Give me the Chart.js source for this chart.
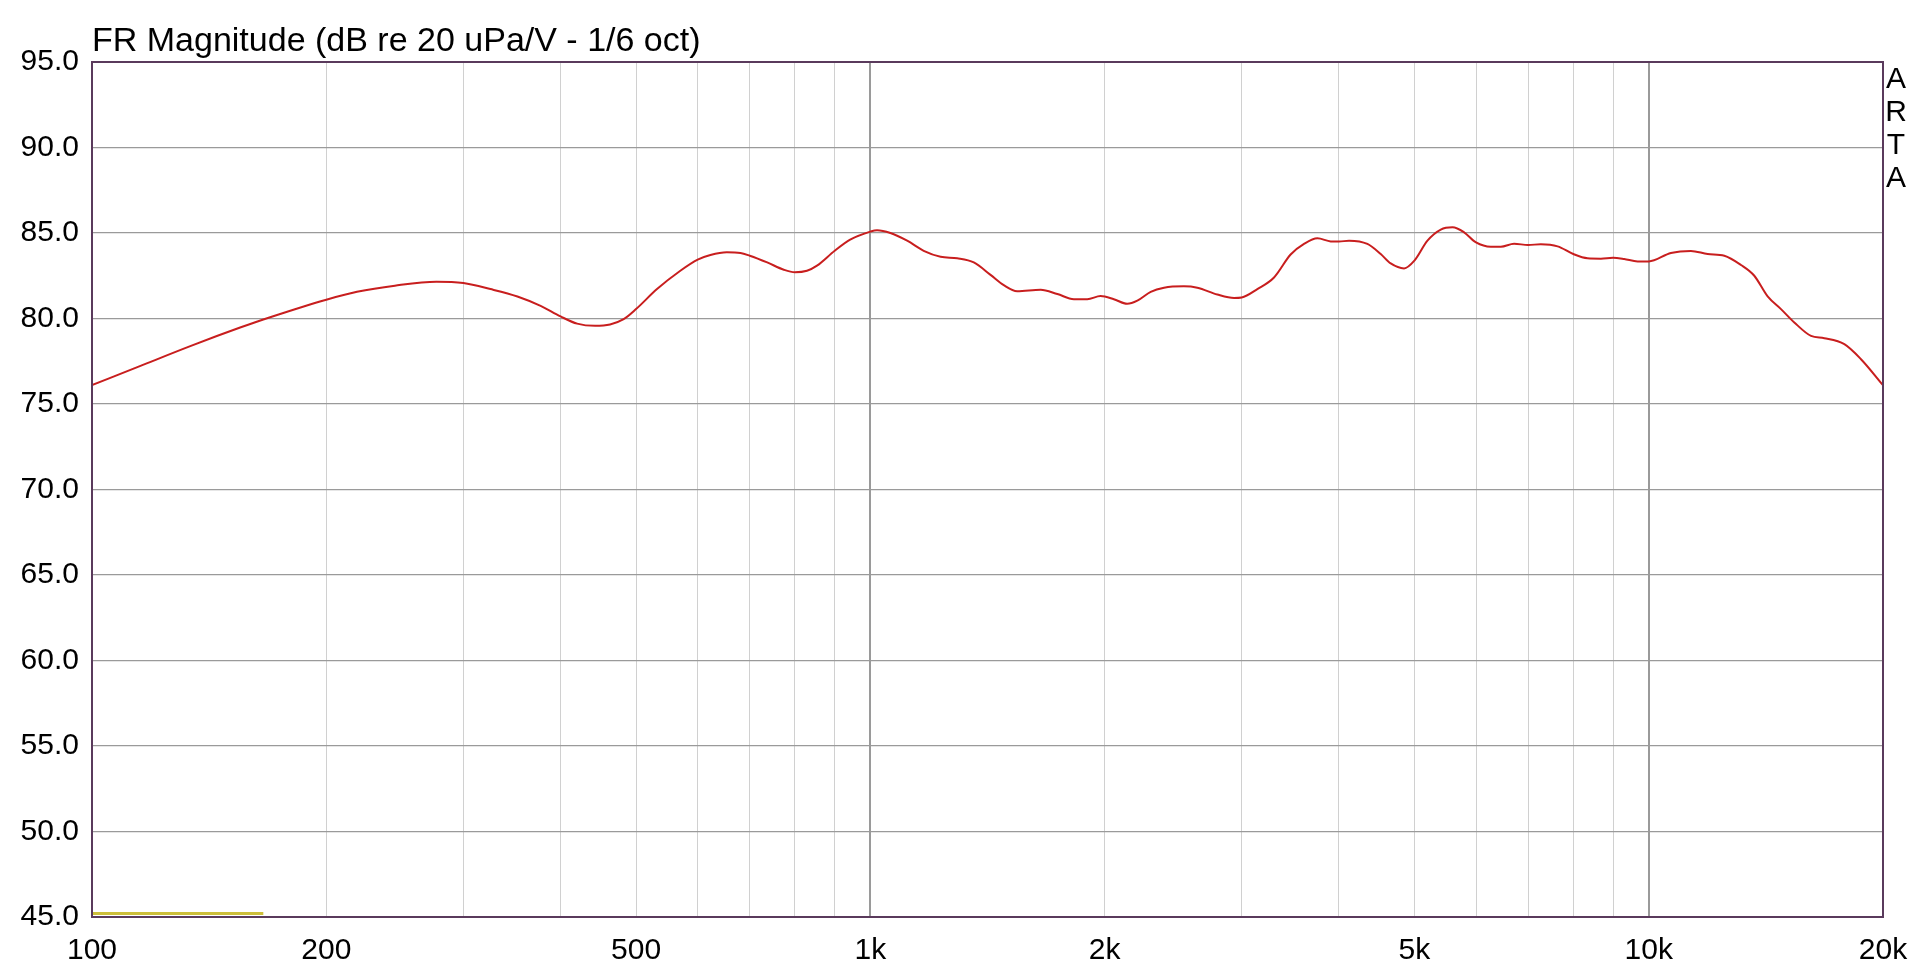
<!DOCTYPE html>
<html>
<head>
<meta charset="utf-8">
<script src="https://cdn.jsdelivr.net/npm/chart.js@4"></script>
<style>
  body { margin: 0; background: #fff; }
</style>
</head>
<body>
<canvas id="fr_chart" width="1920" height="974"></canvas>
<script>
// frequency response
const freqs = [100, 115, 134, 155, 169, 200, 219, 245, 277, 300, 325, 352, 377, 400, 420, 443, 463, 482, 500,
  532, 570, 600, 623, 654, 681, 700, 737, 774, 800, 829, 854, 900, 942, 1000, 1020, 1061, 1115, 1171, 1231,
  1293, 1358, 1427, 1484, 1544, 1655, 1739, 1826, 1900, 1976, 2055, 2138, 2203, 2292, 2384, 2528, 2631,
  2791, 2933, 3000, 3142, 3301, 3467, 3607, 3753, 3904, 4000, 4121, 4351, 4526, 4662, 4850, 5000, 5197,
  5406, 5597, 5792, 6000, 6268, 6457, 6715, 7000, 7268, 7638, 8000, 8344, 8682, 9000, 9300, 9677, 10000,
  10680, 11330, 11906, 12507, 13140, 13667, 14217, 14790, 15384, 16165, 16811, 17838, 18740, 20000];
const magnitude = [76.1, 77.2, 78.4, 79.47, 80.06, 81.1, 81.56, 81.92, 82.15, 82.07, 81.72, 81.29, 80.74, 80.12,
  79.7, 79.57, 79.65, 79.96, 80.55, 81.72, 82.79, 83.44, 83.71, 83.87, 83.83, 83.67, 83.28, 82.85, 82.7,
  82.79, 83.09, 83.96, 84.61, 85.08, 85.16, 85.0, 84.55, 83.96, 83.61, 83.52, 83.28, 82.55, 81.95, 81.6,
  81.68, 81.43, 81.13, 81.13, 81.31, 81.13, 80.86, 81.04, 81.56, 81.8, 81.88, 81.8, 81.4, 81.2, 81.23,
  81.72, 82.4, 83.74, 84.36, 84.69, 84.51, 84.5, 84.55, 84.36, 83.77, 83.22, 82.93, 83.38, 84.55, 85.2,
  85.33, 85.04, 84.45, 84.2, 84.2, 84.37, 84.3, 84.34, 84.22, 83.77, 83.52, 83.5, 83.55, 83.48, 83.34,
  83.34, 83.83, 83.95, 83.77, 83.67, 83.13, 82.5, 81.29, 80.55, 79.77, 78.98, 78.85, 78.5, 77.62, 76.1];

// short yellow trace lying on the bottom edge
const marker_freqs = [100, 166];
const marker_levels = [45.2, 45.2];

const grid_freqs = [100, 200, 300, 400, 500, 600, 700, 800, 900, 1000, 2000, 3000, 4000, 5000, 6000, 7000,
  8000, 9000, 10000, 20000];
const major_freqs = [1000, 10000];
const x_labels = { 100: '100', 200: '200', 500: '500', 1000: '1k', 2000: '2k', 5000: '5k', 10000: '10k', 20000: '20k' };

const title_text = 'FR Magnitude (dB re 20 uPa/V - 1/6 oct)';
const side_text = ['A', 'R', 'T', 'A'];

const FONT = '"Liberation Sans", Arial, sans-serif';


const frame_plugin = {
  id: 'frame',
  afterDraw(chart) {
    const ctx = chart.ctx;
    const a = chart.chartArea;
    ctx.save();
    ctx.strokeStyle = '#5a3a5c';
    ctx.lineWidth = 2;
    ctx.strokeRect(a.left, a.top, a.right - a.left, a.bottom - a.top);

    ctx.fillStyle = '#000';
    ctx.font = '34px ' + FONT;
    ctx.textAlign = 'left';
    ctx.textBaseline = 'alphabetic';
    ctx.fillText(title_text, a.left, 51);

    ctx.font = '30px ' + FONT;
    ctx.textAlign = 'center';
    ctx.textBaseline = 'middle';
    for (let i = 0; i < side_text.length; i++) {
      ctx.fillText(side_text[i], 1896, 80 + i * 33);
    }
    ctx.restore();
  }
};


function make_points(xs, ys) {
  const pts = [];
  for (let i = 0; i < xs.length; i++) {
    pts.push({ x: xs[i], y: ys[i] });
  }
  return pts;
}


function init() {
  const e = document.getElementById('fr_chart');
  new Chart(e, {
    type: 'scatter',
    data: {
      datasets: [
        {
          data: make_points(marker_freqs, marker_levels),
          showLine: true,
          borderColor: '#cdbf3a',
          borderWidth: 3,
          pointRadius: 0,
        },
        {
          data: make_points(freqs, magnitude),
          showLine: true,
          borderColor: '#c81e1e',
          borderWidth: 2,
          pointRadius: 0,
          cubicInterpolationMode: 'monotone',
        },
      ]
    },
    options: {
      responsive: false,
      animation: false,
      layout: { padding: { left: 0, right: 37, top: 62, bottom: 0 } },
      plugins: {
        legend: { display: false },
        tooltip: { enabled: false },
      },
      scales: {
        x: {
          type: 'logarithmic',
          min: 100,
          max: 20000,
          afterBuildTicks: scale => {
            scale.ticks = grid_freqs.map(v => ({ value: v }));
          },
          afterFit: scale => {
            scale.height = 57;
            scale.paddingLeft = 0;
            scale.paddingRight = 0;
          },
          border: { display: false },
          grid: {
            drawTicks: false,
            color: c => {
              const v = c.tick ? c.tick.value : 0;
              if (v === 100 || v === 20000) return 'rgba(0,0,0,0)';
              return major_freqs.includes(v) ? '#9a9a9a' : '#d0d0d0';
            },
            lineWidth: c => (c.tick && major_freqs.includes(c.tick.value)) ? 2 : 1,
          },
          ticks: {
            autoSkip: false,
            maxRotation: 0,
            padding: 16,
            color: '#000',
            font: { family: FONT, size: 30 },
            callback: v => x_labels[v] || '',
          },
        },
        y: {
          min: 45,
          max: 95,
          afterFit: scale => { scale.width = 92; },
          border: { display: false },
          grid: {
            drawTicks: false,
            color: '#9a9a9a',
            lineWidth: 1.3,
          },
          ticks: {
            stepSize: 5,
            padding: 13,
            color: '#000',
            font: { family: FONT, size: 30 },
            callback: v => v.toFixed(1),
          },
        },
      },
    },
    plugins: [frame_plugin],
  });
}

init();
</script>
</body>
</html>
